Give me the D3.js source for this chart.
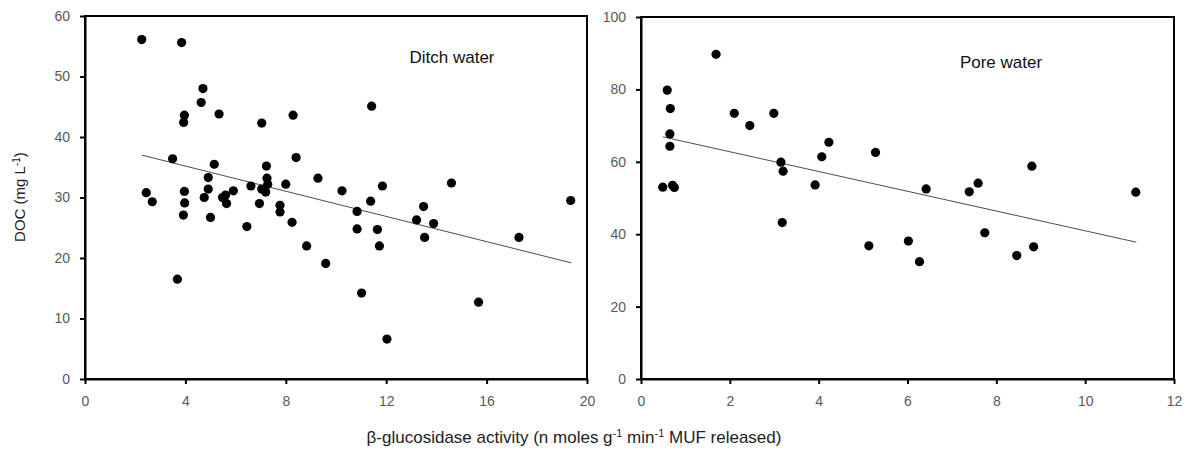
<!DOCTYPE html>
<html><head><meta charset="utf-8">
<script src="https://cdn.jsdelivr.net/npm/d3@7"></script>
<style>
body{margin:0;background:#fff;}
svg text{font-family:"Liberation Sans",Arial,sans-serif;}
</style>
</head><body>
<svg id="c" width="1189" height="455"></svg>
<script>
// Ditch water panel data
const ditchX = [2.26,3.85,4.70,4.63,3.96,3.93,5.34,7.04,8.29,3.49,5.15,7.23,8.41,4.91,7.25,9.28,7.28,8.0,4.91,5.91,6.61,7.04,7.2,10.24,2.44,3.96,4.75,5.48,5.6,2.68,3.97,3.92,5.0,5.64,6.95,6.45,7.77,7.77,8.25,8.83,9.59,3.68,11.42,11.85,14.6,11.38,19.35,10.84,10.84,11.65,11.73,11.02,12.03,13.49,13.21,13.89,13.53,17.29,15.68];
const ditchY = [56.1,55.6,48.0,45.7,43.6,42.4,43.8,42.3,43.6,36.4,35.5,35.2,36.6,33.3,33.2,33.2,32.2,32.2,31.4,31.1,31.9,31.4,30.9,31.1,30.8,31.0,30.0,30.0,30.4,29.3,29.1,27.1,26.7,29.0,29.0,25.2,28.7,27.6,25.9,22.0,19.1,16.5,45.1,31.9,32.4,29.4,29.5,27.7,24.8,24.7,22.0,14.2,6.6,28.5,26.3,25.7,23.4,23.4,12.7];
const ditchTrendX = [2.27, 19.37];
const ditchTrendY = [37.0, 19.2];

// Pore water panel data
const poreX = [1.69,0.59,0.66,2.10,2.99,2.45,0.65,0.65,4.23,4.07,5.28,3.15,3.20,0.49,0.71,0.75,3.92,3.18,5.13,6.02,8.80,6.42,7.39,7.59,11.14,6.27,7.74,8.46,8.84];
const poreY = [89.7,79.8,74.7,73.4,73.4,70.0,67.7,64.3,65.4,61.4,62.6,59.9,57.4,53.0,53.5,52.9,53.6,43.2,36.8,38.1,58.8,52.5,51.7,54.1,51.6,32.4,40.4,34.1,36.5];
const poreTrendX = [0.49, 11.15];
const poreTrendY = [66.9, 37.8];

// Axis ticks
const ditchXTicks = [0,4,8,12,16,20];
const ditchYTicks = [0,10,20,30,40,50,60];
const poreXTicks = [0,2,4,6,8,10,12];
const poreYTicks = [0,20,40,60,80,100];

const svg = d3.select("#c");

function panel(opt){
  const x = d3.scaleLinear().domain(opt.xDom).range([opt.left, opt.right]);
  const y = d3.scaleLinear().domain(opt.yDom).range([opt.bottom, opt.top]);
  const g = svg.append("g");
  g.append("rect").attr("x", opt.left).attr("y", opt.top)
    .attr("width", opt.right-opt.left).attr("height", opt.bottom-opt.top)
    .attr("fill","none").attr("stroke","#000").attr("stroke-width",2);
  const ya = g.append("g").attr("transform",`translate(${opt.left},0)`)
    .call(d3.axisLeft(y).tickValues(opt.yTicks).tickSize(5).tickSizeOuter(0).tickPadding(10).tickFormat(d3.format("d")));
  const xa = g.append("g").attr("transform",`translate(0,${opt.bottom})`)
    .call(d3.axisBottom(x).tickValues(opt.xTicks).tickSize(5).tickSizeOuter(0).tickPadding(12).tickFormat(d3.format("d")));
  [ya,xa].forEach(a=>{
    a.select(".domain").attr("stroke","#000").attr("stroke-width",2);
    a.selectAll(".tick line").attr("stroke","#000").attr("stroke-width",2);
    a.selectAll(".tick text").attr("fill","#595959").style("font-size","14px");
  });
  g.append("line")
    .attr("x1", x(opt.tx[0])).attr("y1", y(opt.ty[0]))
    .attr("x2", x(opt.tx[1])).attr("y2", y(opt.ty[1]))
    .attr("stroke","#4d4d4d").attr("stroke-width",1);
  g.selectAll("circle.p").data(opt.xs.map((v,i)=>[v,opt.ys[i]])).enter()
    .append("circle").attr("class","p")
    .attr("cx", d=>x(d[0])).attr("cy", d=>y(d[1])).attr("r",4.6).attr("fill","#000");
  g.append("text").attr("x", opt.lx).attr("y", opt.ly).attr("text-anchor","middle")
    .style("font-size","17px").attr("fill","#111").text(opt.label);
}

panel({xDom:[0,20], yDom:[0,60], left:85, right:587, top:16, bottom:379,
  xTicks:ditchXTicks, yTicks:ditchYTicks, xs:ditchX, ys:ditchY, tx:ditchTrendX, ty:ditchTrendY,
  label:"Ditch water", lx:452, ly:63});
panel({xDom:[0,12], yDom:[0,100], left:641, right:1174, top:17, bottom:379,
  xTicks:poreXTicks, yTicks:poreYTicks, xs:poreX, ys:poreY, tx:poreTrendX, ty:poreTrendY,
  label:"Pore water", lx:1001, ly:68});

const yt = svg.append("text").attr("transform","translate(25,197) rotate(-90)")
  .attr("text-anchor","middle").style("font-size","15px").attr("fill","#222");
yt.append("tspan").text("DOC (mg L");
yt.append("tspan").attr("dy",-5).style("font-size","10px").text("-1");
yt.append("tspan").attr("dy",5).text(")");

const xt = svg.append("text").attr("x",574).attr("y",443)
  .attr("text-anchor","middle").style("font-size","17px").attr("fill","#222");
xt.append("tspan").text("β-glucosidase activity (n moles g");
xt.append("tspan").attr("dy",-6).style("font-size","11px").text("-1");
xt.append("tspan").attr("dy",6).text(" min");
xt.append("tspan").attr("dy",-6).style("font-size","11px").text("-1");
xt.append("tspan").attr("dy",6).text(" MUF released)");
</script>
</body></html>
